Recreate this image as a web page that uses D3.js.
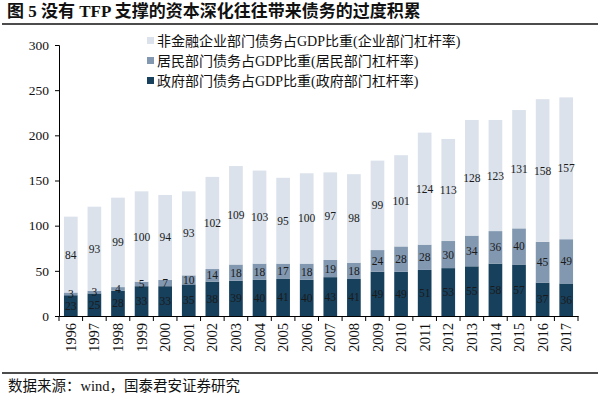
<!DOCTYPE html>
<html>
<head>
<meta charset="utf-8">
<script src="https://cdn.jsdelivr.net/npm/d3@7"></script>
<style>
  body { margin: 0; background: #fff; }
  svg { display: block; }
</style>
</head>
<body>
<svg width="600" height="397"></svg>
<script>
var years = ["1996","1997","1998","1999","2000","2001","2002","2003","2004","2005","2006",
  "2007","2008","2009","2010","2011","2012","2013","2014","2015","2016","2017"];
var govt = [23,25,28,33,33,35,38,39,40,41,40,43,41,49,49,51,53,55,58,57,37,36];
var household = [3,3,4,5,7,10,14,18,18,17,18,19,18,24,28,28,30,34,36,40,45,49];
var corporate = [84,93,99,100,94,93,102,109,103,95,100,97,98,99,101,124,113,128,123,131,158,157];
var yTicks = [0,50,100,150,200,250,300];

var seriesNames = ["政府部门债务占GDP比重(政府部门杠杆率)",
  "居民部门债务占GDP比重(居民部门杠杆率)",
  "非金融企业部门债务占GDP比重(企业部门杠杆率)"];
var colors = ["#17405d", "#8298b1", "#dbe2eb"];

var svg = d3.select("svg");
var serif = "'Liberation Serif', 'Noto Sans CJK SC', serif";
var cjk = "'Liberation Serif', 'Noto Sans CJK SC', serif";

// title
svg.append("text")
  .attr("x", 7).attr("y", 17)
  .attr("font-family", cjk).attr("font-weight", "bold")
  .attr("font-size", 17).attr("fill", "#111")
  .text("图 5  没有 TFP 支撑的资本深化往往带来债务的过度积累");
svg.append("line").attr("x1", 2).attr("x2", 598).attr("y1", 24).attr("y2", 24)
  .attr("stroke", "#111").attr("stroke-width", 1.6);

var x = d3.scaleBand().domain(years).range([59, 578]).paddingInner(0.42).paddingOuter(0.21);
var y = d3.scaleLinear().domain([0, 300]).range([316, 45]);

var table = years.map(function(yr, i) {
  return { year: yr, g: govt[i], h: household[i], c: corporate[i] };
});
var stack = d3.stack().keys(["g", "h", "c"])(table);

var layer = svg.append("g").selectAll("g")
  .data(stack).enter().append("g")
  .attr("fill", function(d, i) { return colors[i]; });

layer.selectAll("rect")
  .data(function(d) { return d; })
  .enter().append("rect")
  .attr("x", function(d) { return x(d.data.year); })
  .attr("width", x.bandwidth())
  .attr("y", function(d) { return y(d[1]); })
  .attr("height", function(d) { return y(d[0]) - y(d[1]); });

// value labels
stack.forEach(function(s) {
  svg.append("g").selectAll("text")
    .data(s).enter().append("text")
    .attr("x", function(d) { return x(d.data.year) + x.bandwidth() / 2; })
    .attr("y", function(d) { return (y(d[0]) + y(d[1])) / 2 + 4; })
    .attr("text-anchor", "middle")
    .attr("font-family", serif).attr("font-size", 11.5)
    .attr("fill", "#1a1a1a")
    .text(function(d) { return d[1] - d[0]; });
});

// y axis
var yAxis = svg.append("g").attr("transform", "translate(59,0)")
  .call(d3.axisLeft(y).tickValues(yTicks).tickSize(4).tickPadding(6));
yAxis.select(".domain").attr("stroke", "#000");
yAxis.selectAll("text").attr("font-family", serif).attr("font-size", 13.5).attr("fill", "#111");

// x axis
var xAxis = svg.append("g").attr("transform", "translate(0,316)")
  .call(d3.axisBottom(x).tickSize(0).tickSizeOuter(0));
xAxis.select(".domain").attr("stroke", "#000");
xAxis.selectAll("text")
  .attr("font-family", serif).attr("font-size", 14.5).attr("fill", "#111")
  .attr("transform", "rotate(-90)")
  .attr("text-anchor", "end")
  .attr("x", -7).attr("y", 0).attr("dy", "0.35em");
// tick marks between categories
var step = x.step();
svg.append("g").selectAll("line")
  .data(d3.range(years.length + 1)).enter().append("line")
  .attr("x1", function(i) { return 59 + i * step; })
  .attr("x2", function(i) { return 59 + i * step; })
  .attr("y1", 316).attr("y2", 321)
  .attr("stroke", "#000");

// legend
var legendOrder = [2, 1, 0];
var lg = svg.append("g");
legendOrder.forEach(function(k, i) {
  var ly = 41 + i * 20;
  lg.append("rect").attr("x", 147).attr("y", ly - 4).attr("width", 7).attr("height", 7)
    .attr("fill", colors[k]);
  lg.append("text").attr("x", 157).attr("y", ly + 5)
    .attr("font-family", cjk).attr("font-size", 14).attr("fill", "#111")
    .text(seriesNames[k]);
});

// footer
svg.append("line").attr("x1", 2).attr("x2", 598).attr("y1", 373).attr("y2", 373)
  .attr("stroke", "#111").attr("stroke-width", 1.6);
svg.append("text")
  .attr("x", 8).attr("y", 391)
  .attr("font-family", cjk).attr("font-size", 14.5).attr("fill", "#111")
  .text("数据来源：wind，国泰君安证券研究");
</script>
</body>
</html>
